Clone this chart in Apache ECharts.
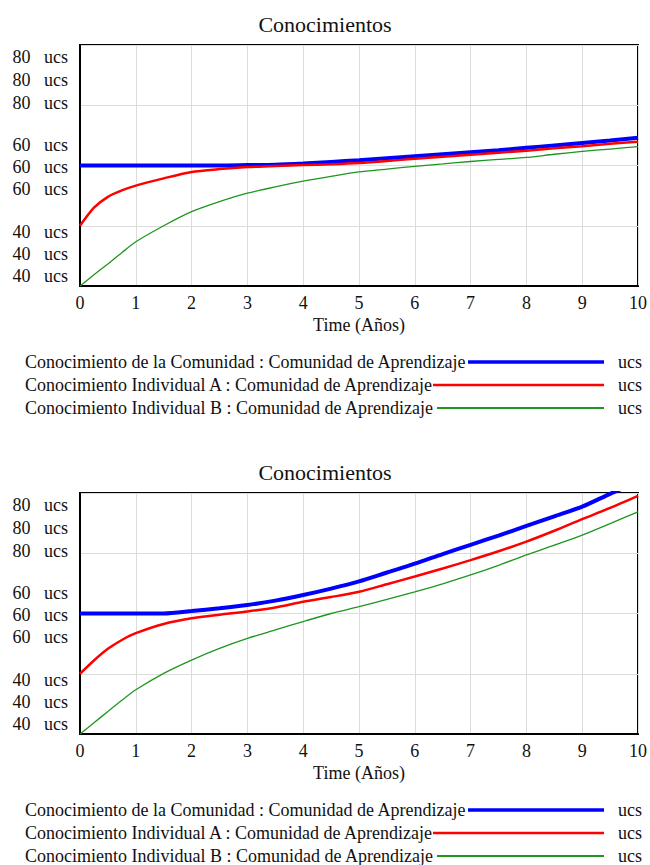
<!DOCTYPE html>
<html>
<head>
<meta charset="utf-8">
<title>Conocimientos</title>
<script src="https://cdn.jsdelivr.net/npm/echarts@6/dist/echarts.min.js"></script>
<style>
  html, body { margin: 0; padding: 0; background: #fff; }
  #chart { width: 650px; height: 865px; }
  #chart text { font-family: 'Liberation Serif', 'Times New Roman', serif !important; }
</style>
</head>
<body>
<div id="chart"></div>
<script>
// time in years
const time = [0, 0.25, 0.5, 0.75, 1, 1.5, 2, 2.5, 3, 3.5, 4, 4.5, 5, 5.5, 6, 6.5, 7, 7.5, 8, 8.5, 9, 9.5, 10]

// top graph
const comunidad1 = [60, 60, 60, 60, 60, 60, 60, 60, 60.1, 60.2, 60.5, 60.9, 61.3, 61.8, 62.3, 62.8, 63.3, 63.8, 64.4, 65.0, 65.6, 66.2, 66.9]
const indivA1 = [45, 49.5, 52.2, 53.8, 55.0, 56.8, 58.4, 59.1, 59.6, 59.9, 60.1, 60.3, 60.6, 61.1, 61.7, 62.2, 62.7, 63.2, 63.7, 64.3, 64.8, 65.4, 65.9]
const indivB1 = [30, 32.8, 35.5, 38.3, 41.0, 45.0, 48.5, 51.0, 53.1, 54.7, 56.1, 57.3, 58.4, 59.1, 59.8, 60.4, 61.0, 61.5, 62.0, 62.8, 63.5, 64.1, 64.7]

// bottom graph
const comunidad2 = [60, 60, 60, 60, 60, 60, 60.6, 61.3, 62.1, 63.2, 64.6, 66.2, 68.0, 70.2, 72.4, 74.8, 77.1, 79.4, 81.8, 84.2, 86.6, 89.8, 92.8]
const indivA2 = [45, 48.3, 51.2, 53.4, 55.1, 57.4, 58.8, 59.7, 60.5, 61.5, 62.9, 64.1, 65.4, 67.3, 69.2, 71.2, 73.3, 75.5, 77.9, 80.6, 83.5, 86.3, 89.3]
const indivB2 = [30, 32.8, 35.6, 38.4, 41.0, 45.1, 48.4, 51.3, 53.8, 55.9, 58.0, 60.0, 61.7, 63.5, 65.4, 67.4, 69.6, 72.0, 74.6, 77.0, 79.5, 82.4, 85.3]

// y tick labels as printed (values where they sit)
const yTickValues = [87, 81.3, 75.5, 65.1, 59.6, 54.1, 43.4, 38, 32.5]
const yTickLabels = ['80', '80', '80', '60', '60', '60', '40', '40', '40']

const seriesNames = [
  'Conocimiento de la Comunidad : Comunidad de Aprendizaje',
  'Conocimiento Individual A : Comunidad de Aprendizaje',
  'Conocimiento Individual B : Comunidad de Aprendizaje'
]
const colors = ['#0000ff', '#ff0000', '#1e961e']
const widths = [4, 2.5, 1.3]

const FONT = "'Liberation Serif', 'Times New Roman', serif"

const chart = echarts.init(document.getElementById('chart'), null, { renderer: 'svg' })

function pairs (ys) {
  return time.map((t, i) => [t, ys[i]])
}

function makeX (idx) {
  return {
    type: 'value',
    gridIndex: idx,
    min: 0,
    max: 10,
    interval: 1,
    name: 'Time (Años)',
    nameLocation: 'middle',
    nameGap: 30,
    nameTextStyle: { fontFamily: FONT, fontSize: 18, color: '#111' },
    axisLine: { lineStyle: { color: '#000', width: 2 } },
    axisTick: { show: false },
    axisLabel: { fontFamily: FONT, fontSize: 18, color: '#111', margin: 8 },
    splitLine: { show: true, lineStyle: { color: '#dcdcdc', width: 1 } }
  }
}

function makeY (idx) {
  return {
    type: 'value',
    gridIndex: idx,
    min: 30,
    max: 90,
    interval: 15,
    axisLine: { show: true, lineStyle: { color: '#000', width: 2 } },
    axisTick: { show: false },
    axisLabel: {
      customValues: yTickValues,
      fontFamily: FONT,
      fontSize: 18,
      color: '#111',
      margin: 12,
      formatter: function (v) {
        let k = 0
        yTickValues.forEach((tv, i) => {
          if (Math.abs(tv - v) < Math.abs(yTickValues[k] - v)) k = i
        })
        return yTickLabels[k] + '   ucs'
      }
    },
    splitLine: { show: true, lineStyle: { color: '#dcdcdc', width: 1 } }
  }
}

function makeSeries (idx, lists) {
  return lists.map((ys, i) => ({
    name: seriesNames[i],
    type: 'line',
    xAxisIndex: idx,
    yAxisIndex: idx,
    showSymbol: false,
    symbol: 'none',
    smooth: 0.25,
    animation: false,
    clip: true,
    lineStyle: { color: colors[i], width: widths[i] },
    itemStyle: { color: colors[i] },
    data: pairs(ys)
  }))
}

// legend drawn by hand: text, then a line to the right, then unit
const legendRowsY = [363, 386, 409]
const lineStartX = [468, 433, 437]
function legendBlock (offsetY) {
  const els = []
  seriesNames.forEach((name, i) => {
    const y = legendRowsY[i] + offsetY
    els.push({
      type: 'text',
      left: 25,
      top: y - 10,
      style: { text: name, fontFamily: FONT, fontSize: 18, fill: '#111' }
    })
    els.push({
      type: 'line',
      shape: { x1: lineStartX[i], y1: y - 1, x2: 604, y2: y - 1 },
      style: { stroke: colors[i], lineWidth: i === 0 ? 3.5 : (i === 1 ? 2.5 : 2) },
      z: 10
    })
    els.push({
      type: 'text',
      left: 618,
      top: y - 10,
      style: { text: 'ucs', fontFamily: FONT, fontSize: 18, fill: '#111' }
    })
  })
  return els
}

chart.setOption({
  backgroundColor: '#fff',
  animation: false,
  textStyle: { fontFamily: FONT },
  title: [
    { text: 'Conocimientos', left: 'center', top: 8, textStyle: { fontFamily: FONT, fontSize: 22, fontWeight: 'normal', color: '#111' } },
    { text: 'Conocimientos', left: 'center', top: 456, textStyle: { fontFamily: FONT, fontSize: 22, fontWeight: 'normal', color: '#111' } }
  ],
  grid: [
    { left: 80, right: 10, top: 45, height: 241, show: true, borderColor: '#000', borderWidth: 2, backgroundColor: '#fff' },
    { left: 80, right: 10, top: 493, height: 241, show: true, borderColor: '#000', borderWidth: 2, backgroundColor: '#fff' }
  ],
  xAxis: [makeX(0), makeX(1)],
  yAxis: [makeY(0), makeY(1)],
  series: [
    ...makeSeries(0, [comunidad1, indivA1, indivB1]),
    ...makeSeries(1, [comunidad2, indivA2, indivB2])
  ],
  graphic: [...legendBlock(0), ...legendBlock(448)]
})
</script>
</body>
</html>
